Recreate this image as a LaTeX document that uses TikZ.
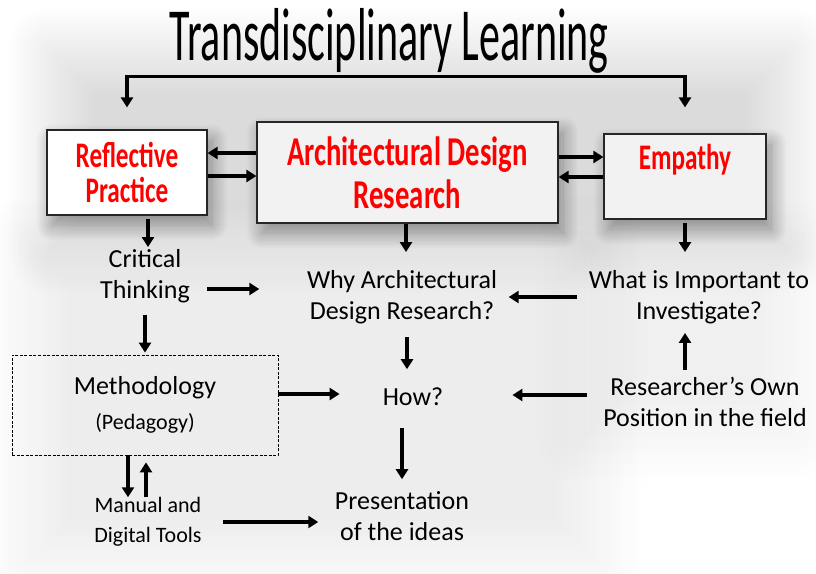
\documentclass[tikz,border=0pt]{standalone}
\usepackage{fontspec}
\setmainfont{Carlito}
\newfontfamily\agency[FakeStretch=0.56]{Carlito}
\newfontfamily\agencyb[FakeStretch=0.7]{Carlito}
\usetikzlibrary{positioning}
\usetikzlibrary{arrows.meta}
\usetikzlibrary{shadows.blur}
\tikzset{
    mybox/.style = {rectangle, draw=black!85, line width=1.2pt, fill=white, align=center,
      blur shadow={shadow xshift=5pt, shadow yshift=-10pt, shadow blur radius=16pt, shadow blur steps=20, shadow opacity=40}},
    myboxg/.style = {mybox, fill=gray!10},
    myboxd/.style = {rectangle, draw=black, line width=0.8pt, dash pattern=on 3pt off 1.5pt, align=center},
    haze/.style = {blur shadow={shadow xshift=0pt, shadow yshift=0pt, shadow blur radius=45pt, shadow blur steps=30, shadow opacity=#1}},
    redtxt/.style = {text=red, align=center, inner sep=0pt},
    mytext/.style = {align=center, inner sep=0pt, font=\fontsize{26}{31}\selectfont, text=black},
    mytexts/.style = {mytext, font=\fontsize{22}{30}\selectfont},
    arr/.style = {-{Triangle[length=10pt,width=12pt]}, line width=3.6pt, black},
    arrb/.style = {{Triangle[length=10pt,width=12pt]}-{Triangle[length=10pt,width=12pt]}, line width=3.6pt, black}
}

\begin{document}
\begin{tikzpicture}[x=1pt,y=-1pt]
  \useasboundingbox (0,0) rectangle (816,573);
  % gray haze behind the diagram
  \path[haze=7] (25,240) rectangle (600,565);
  \path[haze=6] (580,240) rectangle (800,440);
  \path[haze=14] (50,50) rectangle (790,250);

  \node[anchor=base, font=\agency\fontsize{75}{80}\selectfont] (title) at (389,60) {Transdisciplinary Learning};

  % top row
  \node[mybox, minimum width=160pt, minimum height=85pt, redtxt, inner sep=0pt,
    font=\agencyb\bfseries\fontsize{36}{35}\selectfont] (refl) at (127,172.5) {Reflective\\Practice};
  \node[myboxg, minimum width=301pt, minimum height=101pt, redtxt, inner sep=0pt,
    font=\agencyb\bfseries\fontsize{41}{43}\selectfont] (adr) at (407.5,172.5) {Architectural Design\\Research};
  \node[myboxg, minimum width=162pt, minimum height=85pt] (emp) at (685,176.5) {};
  \node[redtxt, font=\agencyb\bfseries\fontsize{36}{35}\selectfont] (empt) at (685,160) {Empathy};

  % text
  \node[mytext] (crit) at (145,276) {Critical\\Thinking};
  \node[mytext] (why) at (402,297) {Why Architectural\\Design Research?};
  \node[mytext] (what) at (699,297) {What is Important to\\Investigate?};
  \node[myboxd, minimum width=266pt, minimum height=100pt, font=\fontsize{26}{35}\selectfont] (meth) at (145,405)
    {Methodology\\{\fontsize{22}{26}\selectfont(Pedagogy)}};
  \node[mytext] (how) at (413,397) {How?};
  \node[mytext] (res) at (705,402) {Researcher’s Own\\Position in the field};
  \node[mytext] (pres) at (402,516) {Presentation\\of the ideas};
  \node[mytexts] (man) at (148,522) {Manual and\\Digital Tools};

  % connectors
  \draw[arrb] ([yshift=22pt]refl.north) -- ++(0,-31) -| ([yshift=26pt]emp.north);
  \draw[arr] ([yshift=19.5pt]adr.west) -- ([yshift=19.5pt]refl.east);
  \draw[arr] ([yshift=-3.5pt]refl.east) -- ([yshift=-3.5pt]adr.west);
  \draw[arr] ([yshift=15.5pt]adr.east) -- ([yshift=15.5pt]adr.east -| emp.west);
  \draw[arr] ([yshift=-0.5pt]emp.west) -- ([yshift=-0.5pt]emp.west -| adr.east);

  \draw[arr, shorten <=3pt, shorten >=2pt] ([xshift=3pt]refl.south -| crit.north) -- ([xshift=3pt]crit.north);
  \draw[arr, shorten <=0pt, shorten >=18pt] ([xshift=-1.5pt]adr.south) -- ([xshift=-1.5pt]adr.south |- why.north);
  \draw[arr, shorten <=3pt, shorten >=18pt] (emp.south) -- (emp.south |- what.north);
  \draw[arr, shorten <=17pt, shorten >=47.5pt] ([yshift=-13pt]crit.east) -- ([yshift=-13pt]crit.east -| why.west);
  \draw[arr, shorten <=12pt, shorten >=2pt] (crit.south) -- (crit.south |- meth.north);
  \draw[arr, shorten <=12pt, shorten >=11.5pt] (what.west) -- (what.west -| why.east);
  \draw[arr, shorten <=13pt, shorten >=18.6pt] ([xshift=5pt]why.south) -- ([xshift=5pt]why.south |- how.north);
  \draw[arr, shorten >=43pt] ([yshift=11pt]meth.east) -- ([yshift=11pt]meth.east -| how.west);
  \draw[arr, shorten <=16.5pt, shorten >=69pt] ([yshift=7pt]res.west) -- ([yshift=7pt]res.west -| how.east);
  \draw[arr, shorten <=7pt, shorten >=9pt] ([xshift=-20pt]res.north) -- ([xshift=-20pt]res.north |- what.south);
  \draw[arr, shorten <=21.6pt, shorten >=12pt] ([xshift=-11pt]how.south) -- ([xshift=-11pt]how.south |- pres.north);
  \draw[arr] ([xshift=-17pt]meth.south) -- ([xshift=-17pt]meth.south |- man.north);
  \draw[arr, shorten >=7pt] ([xshift=1pt]meth.south |- man.north) -- ([xshift=1pt]meth.south);
  \draw[arr, shorten <=21.5pt, shorten >=16.5pt] (man.east) -- (man.east -| pres.west);
\end{tikzpicture}
\end{document}
